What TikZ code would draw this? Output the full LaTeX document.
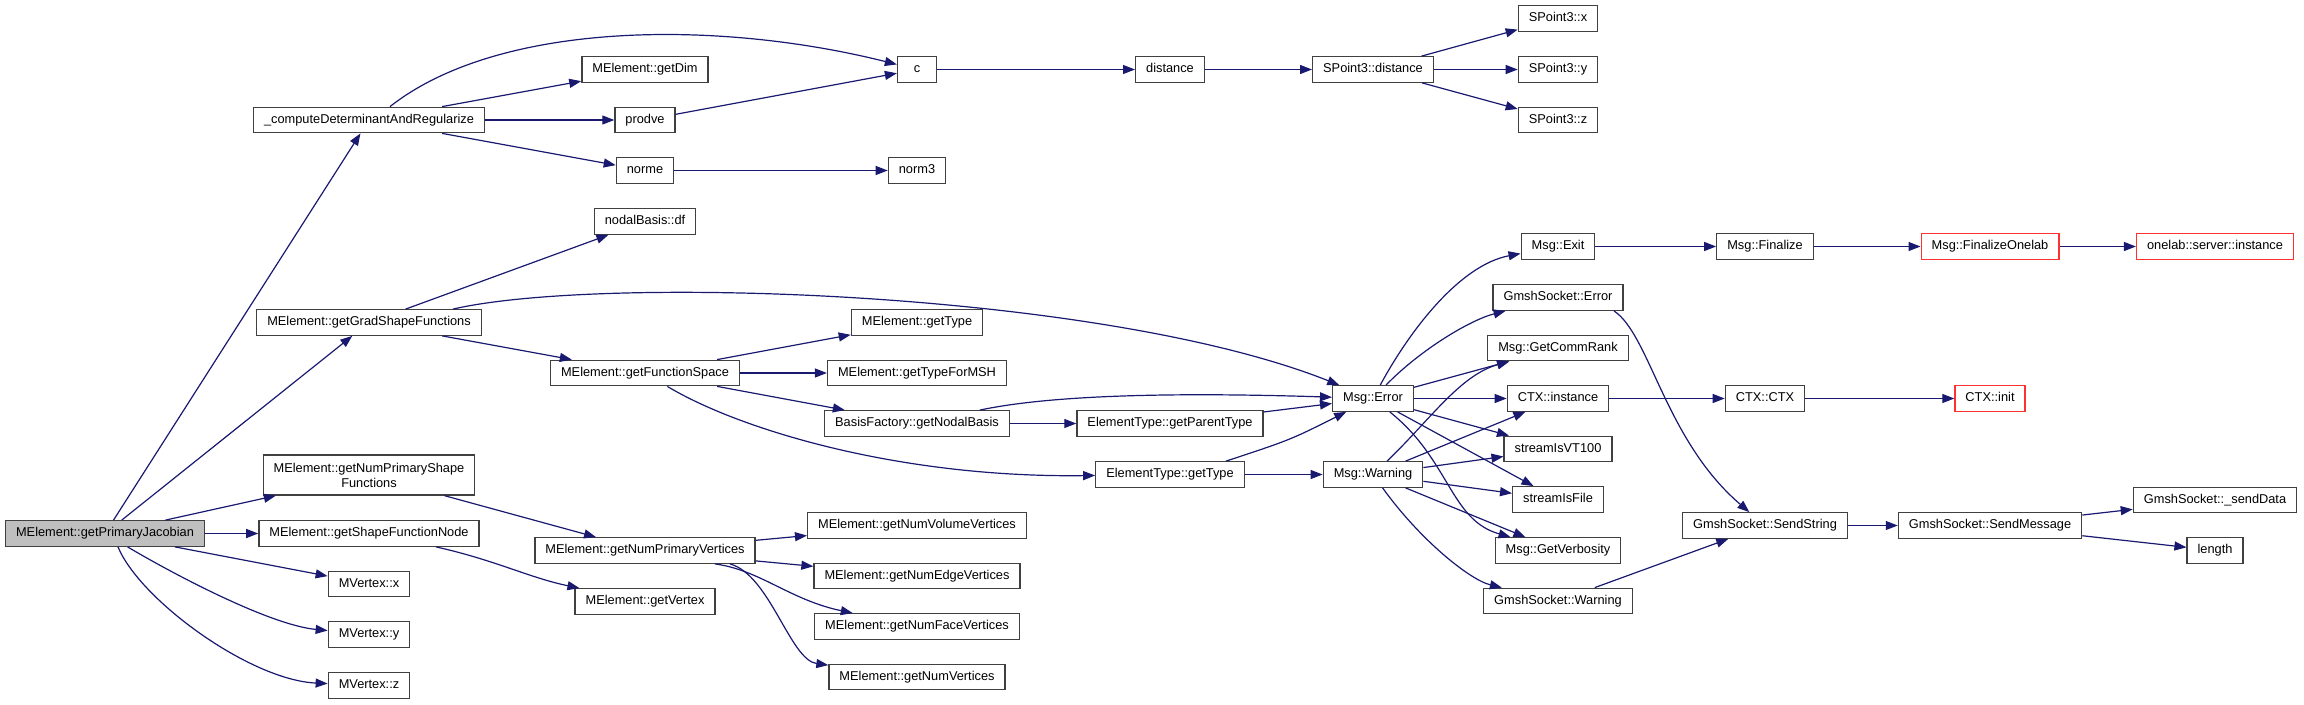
\documentclass[tikz,border=0pt]{standalone}
\usepackage{fontspec}
\setmainfont{Liberation Sans}
\usetikzlibrary{arrows.meta}

\definecolor{edgeblue}{HTML}{191970}
\definecolor{boxline}{HTML}{404040}
\definecolor{rootgray}{HTML}{BFBFBF}
\definecolor{linkred}{HTML}{FF3030}

\tikzset{
  fnbox/.style={draw=boxline, line width=1.3pt, fill=white, inner xsep=10.5pt, inner ysep=0pt,
    minimum height=25.5pt, minimum width=39pt, font=\fontsize{12.8}{15}\selectfont},
  fn/.style={fnbox, text height=9.3pt, text depth=2.7pt},
  root/.style={fn, fill=rootgray},
  ext/.style={fn, draw=linkred},
  call/.style={edgeblue, line width=1.2pt, -{Triangle[length=12pt,width=9pt]}},
}

\begin{document}
\begin{tikzpicture}[x=1pt, y=-1pt]
    \useasboundingbox (0,0) rectangle (2304,704);

    % --- Caller and its direct callees ---
    \node[root] (pj) at (105,533.5) {MElement::getPrimaryJacobian};
    \node[fn] (cdr) at (369,120) {\_computeDeterminantAndRegularize};
    \node[fn] (ggsf) at (369,322.5) {MElement::getGradShapeFunctions};
    \node[fnbox, align=center, minimum height=40pt] (gnpsf) at (369,475) {MElement::getNumPrimaryShape\\Functions};
    \node[fn] (gsfn) at (369,533.5) {MElement::getShapeFunctionNode};
    \node[fn] (vx) at (369,584) {MVertex::x};
    \node[fn] (vy) at (369,634.5) {MVertex::y};
    \node[fn] (vz) at (369,685.5) {MVertex::z};

    % --- Second column ---
    \node[fn] (gdim) at (645,69.5) {MElement::getDim};
    \node[fn] (prodve) at (645,120) {prodve};
    \node[fn] (norme) at (645,170.5) {norme};
    \node[fn] (ndf) at (645,221.5) {nodalBasis::df};
    \node[fn] (gfs) at (645,373) {MElement::getFunctionSpace};
    \node[fn] (gnpv) at (645,550.5) {MElement::getNumPrimaryVertices};
    \node[fn] (gvert) at (645,601.5) {MElement::getVertex};

    % --- Third column ---
    \node[fn] (cfun) at (917,69.5) {c};
    \node[fn] (norm3) at (917,170.5) {norm3};
    \node[fn] (gtype) at (917,322.5) {MElement::getType};
    \node[fn] (gtfm) at (917,373) {MElement::getTypeForMSH};
    \node[fn] (gnb) at (917,423.5) {BasisFactory::getNodalBasis};
    \node[fn] (gnvv) at (917,525.5) {MElement::getNumVolumeVertices};
    \node[fn] (gnev) at (917,576) {MElement::getNumEdgeVertices};
    \node[fn] (gnfv) at (917,626.5) {MElement::getNumFaceVertices};
    \node[fn] (gnv) at (917,677) {MElement::getNumVertices};

    % --- Middle columns ---
    \node[fn] (dist) at (1170,69.5) {distance};
    \node[fn] (etpt) at (1170,423.5) {ElementType::getParentType};
    \node[fn] (ettype) at (1170,474.5) {ElementType::getType};
    \node[fn] (spd) at (1373,69.5) {SPoint3::distance};
    \node[fn] (merr) at (1373,398.5) {Msg::Error};
    \node[fn] (mwarn) at (1373,474.5) {Msg::Warning};

    % --- Leaves of Msg::Error / Msg::Warning ---
    \node[fn] (spx) at (1558,18.5) {SPoint3::x};
    \node[fn] (spy) at (1558,69.5) {SPoint3::y};
    \node[fn] (spz) at (1558,120) {SPoint3::z};
    \node[fn] (mexit) at (1558,246.5) {Msg::Exit};
    \node[fn] (gserr) at (1558,297.5) {GmshSocket::Error};
    \node[fn] (gcr) at (1558,348) {Msg::GetCommRank};
    \node[fn] (ctxi) at (1558,398.5) {CTX::instance};
    \node[fn] (svt) at (1558,449) {streamIsVT100};
    \node[fn] (sfile) at (1558,499.5) {streamIsFile};
    \node[fn] (gverb) at (1558,550.5) {Msg::GetVerbosity};
    \node[fn] (gswarn) at (1558,601) {GmshSocket::Warning};

    % --- Right side chains ---
    \node[fn] (mfin) at (1765,246.5) {Msg::Finalize};
    \node[fn] (ctxc) at (1765,398.5) {CTX::CTX};
    \node[fn] (gsss) at (1765,525.5) {GmshSocket::SendString};
    \node[ext] (mfo) at (1990,246.5) {Msg::FinalizeOnelab};
    \node[ext] (ctxinit) at (1990,398.5) {CTX::init};
    \node[fn] (gssm) at (1990,525.5) {GmshSocket::SendMessage};
    \node[ext] (osi) at (2215,246.5) {onelab::server::instance};
    \node[fn] (gsdata) at (2215,500) {GmshSocket::\_sendData};
    \node[fn] (glen) at (2215,550.5) {length};

    % --- Calls from getPrimaryJacobian ---
    \foreach \t in {cdr,ggsf,gnpsf,gsfn,vx} \draw[call] (pj) -- (\t);
    \draw[call] (pj) .. controls (175,575) and (270,625) .. (vy);
    \draw[call] ([xshift=13pt]pj.south) .. controls (140,600) and (250,680) .. (vz);

    % --- Determinant branch ---
    \draw[call] ([xshift=21pt]cdr.north) .. controls (500,20) and (720,20) .. (cfun); % arc over the top
    \foreach \t in {gdim,prodve,norme} \draw[call] (cdr) -- (\t);
    \draw[call] (prodve) -- (cfun);
    \draw[call] (norme) -- (norm3);
    \draw[call] (cfun) -- (dist);
    \draw[call] (dist) -- (spd);
    \foreach \t in {spx,spy,spz} \draw[call] (spd) -- (\t);

    % --- Shape function branch ---
    \draw[call] (ggsf) -- (ndf);
    \draw[call] ([xshift=84pt]ggsf.north) .. controls (600,275) and (1100,290) .. (merr);
    \draw[call] (ggsf) -- (gfs);
    \foreach \t in {gtype,gtfm,gnb} \draw[call] (gfs) -- (\t);
    \draw[call] (gfs) .. controls (740,430) and (900,478) .. (ettype);
    \draw[call] (gnb) .. controls (1060,393) and (1200,393) .. (merr);
    \draw[call] (gnb) -- (etpt);
    \draw[call] (etpt) -- (merr);
    \draw[call] ([xshift=56pt]ettype.north) .. controls (1290,440) .. (merr);
    \draw[call] (ettype) -- (mwarn);

    % --- Vertex counts ---
    \draw[call] (gnpsf) -- (gnpv);
    \draw[call] ([xshift=67pt]gsfn.south) .. controls (495,560) and (530,578) .. (gvert);
    \draw[call] (gnpv) -- (gnvv);
    \draw[call] (gnpv) -- (gnev);
    \draw[call] ([xshift=70pt]gnpv.south) .. controls (760,570) and (790,600) .. (gnfv);
    \draw[call] ([xshift=85pt]gnpv.south) .. controls (770,575) and (790,660) .. (gnv);

    % --- Msg::Error ---
    \draw[call] (merr) .. controls (1410,330) and (1460,265) .. (mexit);
    \draw[call] (merr) .. controls (1420,350) and (1470,320) .. (gserr);
    \foreach \t in {gcr,ctxi,svt,sfile} \draw[call] (merr) -- (\t);
    \draw[call] (merr) .. controls (1450,460) and (1450,520) .. (gverb);

    % --- Msg::Warning ---
    \draw[call] (mwarn) .. controls (1430,420) and (1460,375) .. (gcr);
    \foreach \t in {ctxi,svt,sfile,gverb} \draw[call] (mwarn) -- (\t);
    \draw[call] (mwarn) .. controls (1420,540) and (1470,580) .. (gswarn);

    % --- Chains on the right ---
    \draw[call] (mexit) -- (mfin);
    \draw[call] (mfin) -- (mfo);
    \draw[call] (mfo) -- (osi);
    \draw[call] (ctxi) -- (ctxc);
    \draw[call] (ctxc) -- (ctxinit);
    \draw[call] ([xshift=56pt]gserr.south) .. controls (1650,335) and (1665,440) .. (gsss);
    \draw[call] (gswarn) -- (gsss);
    \draw[call] (gsss) -- (gssm);
    \draw[call] (gssm) -- (gsdata);
    \draw[call] (gssm) -- (glen);

\end{tikzpicture}
\end{document}
